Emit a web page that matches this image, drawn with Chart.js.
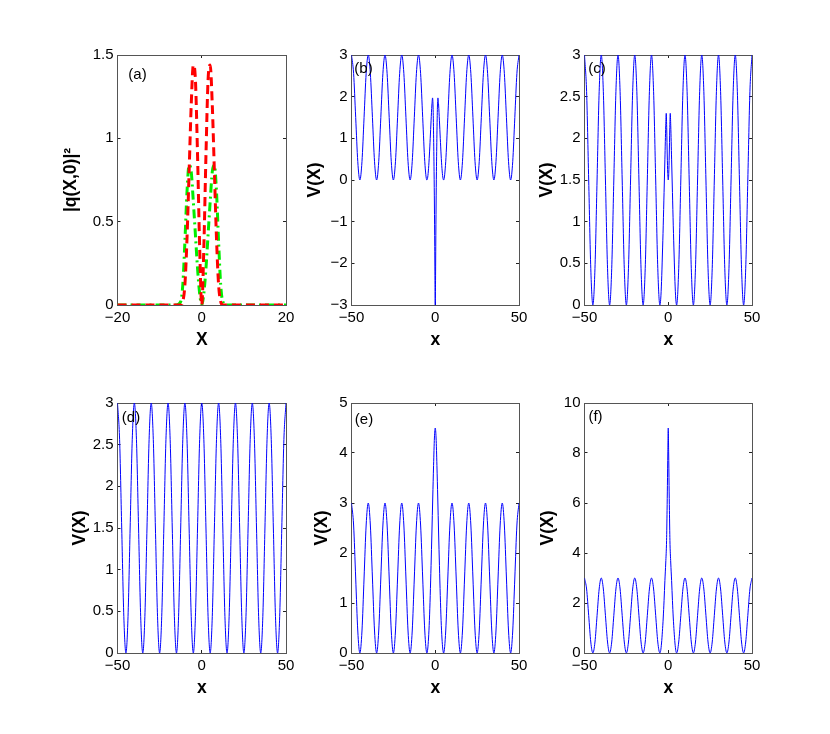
<!DOCTYPE html>
<html>
<head>
<meta charset="utf-8">
<script src="https://cdn.jsdelivr.net/npm/chart.js@4.4.1/dist/chart.umd.min.js"></script>
<style>
  body { margin: 0; background: #fff; }
  #page { position: relative; width: 830px; height: 734px; overflow: hidden; background: #fff; }
  canvas { position: absolute; }
</style>
</head>
<body>
<div id="page">
  <canvas id="pa"></canvas>
  <canvas id="pb"></canvas>
  <canvas id="pc"></canvas>
  <canvas id="pd"></canvas>
  <canvas id="pe"></canvas>
  <canvas id="pf"></canvas>
</div>
<script>
// ======================
// DATA
// ======================

// periodic lattice, read every 1.25 along x
const latticeX = [
  -50, -48.75, -47.5, -46.25, -45, -43.75, -42.5, -41.25,
  -40, -38.75, -37.5, -36.25, -35, -33.75, -32.5, -31.25,
  -30, -28.75, -27.5, -26.25, -25, -23.75, -22.5, -21.25,
  -20, -18.75, -17.5, -16.25, -15, -13.75, -12.5, -11.25,
  -10, -8.75, -7.5, -6.25, -5, -3.75, -2.5, -1.25,
  0, 1.25, 2.5, 3.75, 5, 6.25, 7.5, 8.75,
  10, 11.25, 12.5, 13.75, 15, 16.25, 17.5, 18.75,
  20, 21.25, 22.5, 23.75, 25, 26.25, 27.5, 28.75,
  30, 31.25, 32.5, 33.75, 35, 36.25, 37.5, 38.75,
  40, 41.25, 42.5, 43.75, 45, 46.25, 47.5, 48.75,
  50
];
const latticeV = [
  3, 2.56, 1.5, 0.44, 0, 0.44, 1.5, 2.56,
  3, 2.56, 1.5, 0.44, 0, 0.44, 1.5, 2.56,
  3, 2.56, 1.5, 0.44, 0, 0.44, 1.5, 2.56,
  3, 2.56, 1.5, 0.44, 0, 0.44, 1.5, 2.56,
  3, 2.56, 1.5, 0.44, 0, 0.44, 1.5, 2.56,
  3, 2.56, 1.5, 0.44, 0, 0.44, 1.5, 2.56,
  3, 2.56, 1.5, 0.44, 0, 0.44, 1.5, 2.56,
  3, 2.56, 1.5, 0.44, 0, 0.44, 1.5, 2.56,
  3, 2.56, 1.5, 0.44, 0, 0.44, 1.5, 2.56,
  3, 2.56, 1.5, 0.44, 0, 0.44, 1.5, 2.56,
  3
];

// centre of panel (b)
const bX = [-4.5, -4, -3.5, -3, -2.5, -2, -1.6, -1.3, -1, -0.7, -0.5, -0.3, -0.15, 0,
            0.15, 0.3, 0.5, 0.7, 1, 1.3, 1.6, 2, 2.5, 3, 3.5, 4, 4.5];
const bV = [0.07, 0.28, 0.6, 1.0, 1.42, 1.8, 1.97, 1.75, 1.1, 0.2, -0.6, -1.6, -2.5, -3,
            -2.5, -1.6, -0.6, 0.2, 1.1, 1.75, 1.97, 1.8, 1.42, 1.0, 0.6, 0.28, 0.07];

// centre of panel (c)
const cX = [-4.5, -4, -3.5, -3, -2.5, -2, -1.5, -1.2, -0.9, -0.6, -0.3, 0,
            0.3, 0.6, 0.9, 1.2, 1.5, 2, 2.5, 3, 3.5, 4, 4.5];
const cV = [0.07, 0.28, 0.6, 0.95, 1.35, 1.75, 2.15, 2.3, 2.1, 1.8, 1.58, 1.5,
            1.58, 1.8, 2.1, 2.3, 2.15, 1.75, 1.35, 0.95, 0.6, 0.28, 0.07];

// centre of panel (e)
const eX = [-4.5, -4, -3.5, -3, -2.5, -2, -1.5, -1, -0.5, 0, 0.5, 1, 1.5, 2, 2.5, 3, 3.5, 4, 4.5];
const eV = [0.08, 0.3, 0.65, 1.15, 1.75, 2.4, 3.1, 3.75, 4.3, 4.5, 4.3, 3.75, 3.1, 2.4, 1.75, 1.15, 0.65, 0.3, 0.08];

// centre of panel (f)
const fX = [-4.5, -4, -3.5, -3, -2.5, -2, -1.5, -1, -0.7, -0.5, -0.25, 0,
            0.25, 0.5, 0.7, 1, 1.5, 2, 2.5, 3, 3.5, 4, 4.5];
const fV = [0.1, 0.4, 0.85, 1.4, 2.1, 2.9, 3.6, 4.5, 5.7, 6.7, 8.0, 9.0,
            8.0, 6.7, 5.7, 4.5, 3.6, 2.9, 2.1, 1.4, 0.85, 0.4, 0.1];

// panel (a) |q(X,0)|^2
const qX     = [-20, -6, -5, -4.5, -4, -3.5, -3, -2.5, -2, -1.5, -1, -0.5, 0,
                0.5, 1, 1.5, 2, 2.5, 3, 3.5, 4, 4.5, 5, 6, 20];
const qRed   = [0, 0, 0, 0.02, 0.12, 0.4, 0.8, 1.2, 1.44, 1.35, 0.9, 0.35, 0,
                0.35, 0.9, 1.35, 1.44, 1.2, 0.8, 0.4, 0.12, 0.02, 0, 0, 0];
const qGreen = [0, 0, 0.02, 0.12, 0.38, 0.68, 0.84, 0.8, 0.62, 0.42, 0.22, 0.07, 0,
                0.07, 0.22, 0.42, 0.62, 0.8, 0.84, 0.68, 0.38, 0.12, 0.02, 0, 0];

// ======================
// HELPERS
// ======================
Chart.defaults.font.family = '"Liberation Sans", Arial, Helvetica, sans-serif';
Chart.defaults.color = '#000';

function pairs(xs, ys) {
  return xs.map((x, i) => ({ x: x, y: ys[i] }));
}

// lattice outside |x|<5, centre table inside
function withCentre(cx, cv) {
  const pts = pairs(latticeX, latticeV).filter(p => Math.abs(p.x) >= 5);
  return pts.concat(pairs(cx, cv)).sort((a, b) => a.x - b.x);
}

function blue(pts) {
  return {
    data: pts,
    borderColor: '#0000ff',
    borderWidth: 1,
    pointRadius: 0,
    fill: false,
    cubicInterpolationMode: 'monotone'
  };
}

const minus = v => (v < 0 ? '\u2212' + Math.abs(v) : String(v));

const panelTag = {
  id: 'panelTag',
  afterDraw(chart, args, opts) {
    if (!opts.text) return;
    const { ctx, chartArea } = chart;
    ctx.save();
    ctx.font = '15px "Liberation Sans", Arial, sans-serif';
    ctx.fillStyle = '#000';
    ctx.textAlign = 'center';
    ctx.textBaseline = 'middle';
    ctx.fillText(opts.text, chartArea.left + opts.dx, chartArea.top + opts.dy);
    ctx.restore();
  }
};

const PAD_TOP = 20, PAD_RIGHT = 20, X_H = 46, PLOT_H = 250;
const TITLE_FONT = { size: 17.5, weight: 'bold' };
const TICK_FONT = { size: 15 };
const BOX = '#555';

function axis(pos, min, max, step, title, size) {
  const horiz = pos === 'bottom' || pos === 'top';
  const main = pos === 'bottom' || pos === 'left';
  return {
    type: 'linear',
    position: pos,
    min: min,
    max: max,
    ticks: {
      display: main,
      stepSize: step,
      padding: 7,
      font: TICK_FONT,
      color: '#000',
      maxRotation: 0,
      callback: minus
    },
    grid: {
      drawOnChartArea: false,
      drawTicks: true,
      tickLength: -3,
      tickColor: '#222',
      tickWidth: 1
    },
    border: { display: true, color: BOX, width: 1 },
    title: {
      display: main,
      text: title,
      font: TITLE_FONT,
      color: '#000',
      padding: 0
    },
    afterFit: s => {
      if (horiz) s.height = size; else s.width = size;
    }
  };
}

function config(p) {
  return {
    type: 'line',
    data: { datasets: p.datasets },
    options: {
      responsive: false,
      maintainAspectRatio: false,
      animation: false,
      layout: { padding: { top: PAD_TOP, right: PAD_RIGHT, bottom: 0, left: 0 } },
      plugins: {
        legend: { display: false },
        tooltip: { enabled: false },
        panelTag: { text: p.tag, dx: p.tagAt[0], dy: p.tagAt[1] }
      },
      scales: {
        x: axis('bottom', p.x[0], p.x[1], p.x[2], p.xTitle, X_H),
        x2: axis('top', p.x[0], p.x[1], p.x[2], '', 0),
        y: axis('left', p.y[0], p.y[1], p.y[2], p.yTitle, p.yW),
        y2: axis('right', p.y[0], p.y[1], p.y[2], '', 0)
      }
    },
    plugins: [panelTag]
  };
}

// draw once, measure the plot box, then redraw at the size that puts it where it belongs
function makePanel(p) {
  const cv = document.getElementById(p.id);
  let cw = p.yW + p.w + PAD_RIGHT;
  let ch = PAD_TOP + PLOT_H + X_H;
  cv.width = cw;
  cv.height = ch;
  let chart = new Chart(cv, config(p));
  const a = chart.chartArea;
  cw += p.w - (a.right - a.left);
  ch += PLOT_H - (a.bottom - a.top);
  chart.destroy();

  cv.width = cw;
  cv.height = ch;
  chart = new Chart(cv, config(p));
  const b = chart.chartArea;
  cv.style.left = (p.left - b.left) + 'px';
  cv.style.top = (p.top - b.top) + 'px';
  return chart;
}

// ======================
// PANELS
// ======================
const panels = [
  {
    id: 'pa', left: 117, top: 55, w: 168, yW: 56.5, tag: '(a)', tagAt: [20, 20],
    x: [-20, 20, 20], xTitle: 'X', y: [0, 1.5, 0.5], yTitle: '|q(X,0)|\u00b2',
    datasets: [
      {
        data: pairs(qX, qRed), borderColor: '#ff0000', borderWidth: 3,
        borderDash: [9, 5], pointRadius: 0, fill: false,
        cubicInterpolationMode: 'monotone', order: 1
      },
      {
        data: pairs(qX, qGreen), borderColor: '#00ee00', borderWidth: 3,
        borderDash: [9, 4, 2, 4], pointRadius: 0, fill: false,
        cubicInterpolationMode: 'monotone', order: 2
      }
    ]
  },
  {
    id: 'pb', left: 351, top: 55, w: 167, yW: 46.5, tag: '(b)', tagAt: [12, 14],
    x: [-50, 50, 50], xTitle: 'x', y: [-3, 3, 1], yTitle: 'V(X)',
    datasets: [blue(withCentre(bX, bV))]
  },
  {
    id: 'pc', left: 584, top: 55, w: 167, yW: 47.5, tag: '(c)', tagAt: [12.5, 14],
    x: [-50, 50, 50], xTitle: 'x', y: [0, 3, 0.5], yTitle: 'V(X)',
    datasets: [blue(withCentre(cX, cV))]
  },
  {
    id: 'pd', left: 117, top: 403, w: 168, yW: 47.5, tag: '(d)', tagAt: [13.5, 15],
    x: [-50, 50, 50], xTitle: 'x', y: [0, 3, 0.5], yTitle: 'V(X)',
    datasets: [blue(pairs(latticeX, latticeV))]
  },
  {
    id: 'pe', left: 351, top: 403, w: 167, yW: 39.5, tag: '(e)', tagAt: [12.5, 17],
    x: [-50, 50, 50], xTitle: 'x', y: [0, 5, 1], yTitle: 'V(X)',
    datasets: [blue(withCentre(eX, eV))]
  },
  {
    id: 'pf', left: 584, top: 403, w: 167, yW: 46.5, tag: '(f)', tagAt: [11, 14],
    x: [-50, 50, 50], xTitle: 'x', y: [0, 10, 2], yTitle: 'V(X)',
    datasets: [blue(withCentre(fX, fV))]
  }
];

panels.forEach(makePanel);
</script>
</body>
</html>
